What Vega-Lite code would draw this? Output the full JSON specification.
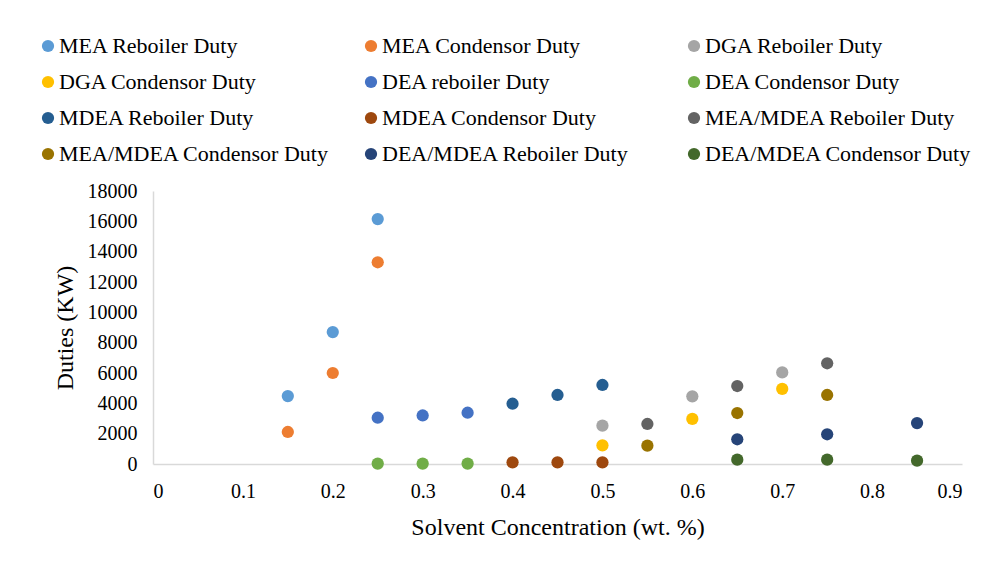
{
  "$schema": "https://vega.github.io/schema/vega-lite/v6.json",
  "width": 809,
  "height": 273,
  "autosize": {"type": "none"},
  "padding": {"left": 153, "top": 191, "right": 28, "bottom": 110},
  "background": "white",
  "data": {
    "values": [
      {"series": "MEA Reboiler Duty", "conc": 0.15, "duty": 4480},
      {"series": "MEA Reboiler Duty", "conc": 0.2, "duty": 8700},
      {"series": "MEA Reboiler Duty", "conc": 0.25, "duty": 16150},
      {"series": "MEA Condensor Duty", "conc": 0.15, "duty": 2110},
      {"series": "MEA Condensor Duty", "conc": 0.2, "duty": 6000},
      {"series": "MEA Condensor Duty", "conc": 0.25, "duty": 13300},
      {"series": "DGA Reboiler Duty", "conc": 0.5, "duty": 2530},
      {"series": "DGA Reboiler Duty", "conc": 0.6, "duty": 4460},
      {"series": "DGA Reboiler Duty", "conc": 0.7, "duty": 6040},
      {"series": "DGA Condensor Duty", "conc": 0.5, "duty": 1230},
      {"series": "DGA Condensor Duty", "conc": 0.6, "duty": 2970},
      {"series": "DGA Condensor Duty", "conc": 0.7, "duty": 4950},
      {"series": "DEA reboiler Duty", "conc": 0.25, "duty": 3050},
      {"series": "DEA reboiler Duty", "conc": 0.3, "duty": 3200},
      {"series": "DEA reboiler Duty", "conc": 0.35, "duty": 3380},
      {"series": "DEA Condensor Duty", "conc": 0.25, "duty": 30},
      {"series": "DEA Condensor Duty", "conc": 0.3, "duty": 30},
      {"series": "DEA Condensor Duty", "conc": 0.35, "duty": 30},
      {"series": "MDEA Reboiler Duty", "conc": 0.4, "duty": 3975},
      {"series": "MDEA Reboiler Duty", "conc": 0.45, "duty": 4550},
      {"series": "MDEA Reboiler Duty", "conc": 0.5, "duty": 5210},
      {"series": "MDEA Condensor Duty", "conc": 0.4, "duty": 110},
      {"series": "MDEA Condensor Duty", "conc": 0.45, "duty": 110},
      {"series": "MDEA Condensor Duty", "conc": 0.5, "duty": 110},
      {"series": "MEA/MDEA Reboiler Duty", "conc": 0.55, "duty": 2640},
      {"series": "MEA/MDEA Reboiler Duty", "conc": 0.65, "duty": 5140},
      {"series": "MEA/MDEA Reboiler Duty", "conc": 0.75, "duty": 6640},
      {"series": "MEA/MDEA Condensor Duty", "conc": 0.55, "duty": 1210},
      {"series": "MEA/MDEA Condensor Duty", "conc": 0.65, "duty": 3360},
      {"series": "MEA/MDEA Condensor Duty", "conc": 0.75, "duty": 4550},
      {"series": "DEA/MDEA Reboiler Duty", "conc": 0.65, "duty": 1630},
      {"series": "DEA/MDEA Reboiler Duty", "conc": 0.75, "duty": 1960},
      {"series": "DEA/MDEA Reboiler Duty", "conc": 0.85, "duty": 2700},
      {"series": "DEA/MDEA Condensor Duty", "conc": 0.65, "duty": 285},
      {"series": "DEA/MDEA Condensor Duty", "conc": 0.75, "duty": 285},
      {"series": "DEA/MDEA Condensor Duty", "conc": 0.85, "duty": 220}
    ]
  },
  "mark": {"type": "point", "filled": true, "shape": "circle", "size": 150, "opacity": 1},
  "encoding": {
    "x": {
      "field": "conc",
      "type": "quantitative",
      "scale": {"domain": [0, 0.9], "nice": false, "zero": false},
      "axis": {
        "title": "Solvent Concentration (wt. %)",
        "values": [0, 0.1, 0.2, 0.3, 0.4, 0.5, 0.6, 0.7, 0.8, 0.9],
        "format": ".1~f",
        "grid": false,
        "ticks": false,
        "domainColor": "#d9d9d9",
        "domainWidth": 1.5,
        "labelPadding": 17,
        "labelFontSize": 20,
        "labelFont": "Liberation Serif",
        "labelColor": "#000000",
        "titleFont": "Liberation Serif",
        "titleFontSize": 24,
        "titleFontWeight": "normal",
        "titleColor": "#000000",
        "titlePadding": 14
      }
    },
    "y": {
      "field": "duty",
      "type": "quantitative",
      "scale": {"domain": [0, 18000], "nice": false},
      "axis": {
        "title": "Duties (KW)",
        "values": [0, 2000, 4000, 6000, 8000, 10000, 12000, 14000, 16000, 18000],
        "format": "d",
        "grid": false,
        "ticks": false,
        "domainColor": "#d9d9d9",
        "domainWidth": 1.5,
        "labelPadding": 16,
        "labelFontSize": 20,
        "labelFont": "Liberation Serif",
        "labelColor": "#000000",
        "titleFont": "Liberation Serif",
        "titleFontSize": 24,
        "titleFontWeight": "normal",
        "titleColor": "#000000",
        "titlePadding": 10
      }
    },
    "color": {
      "field": "series",
      "type": "nominal",
      "scale": {
        "domain": [
          "MEA Reboiler Duty", "MEA Condensor Duty", "DGA Reboiler Duty",
          "DGA Condensor Duty", "DEA reboiler Duty", "DEA Condensor Duty",
          "MDEA Reboiler Duty", "MDEA Condensor Duty", "MEA/MDEA Reboiler Duty",
          "MEA/MDEA Condensor Duty", "DEA/MDEA Reboiler Duty", "DEA/MDEA Condensor Duty"
        ],
        "range": [
          "#5B9BD5", "#ED7D31", "#A5A5A5",
          "#FFC000", "#4472C4", "#70AD47",
          "#255E91", "#9E480E", "#636363",
          "#997300", "#264478", "#43682B"
        ]
      },
      "legend": {
        "title": null,
        "orient": "none",
        "legendX": -116,
        "legendY": -156,
        "columns": 3,
        "direction": "horizontal",
        "gridAlign": "all",
        "columnPadding": 30,
        "rowPadding": 14,
        "symbolType": "circle",
        "symbolSize": 150,
        "symbolStrokeWidth": 0,
        "symbolOpacity": 1,
        "labelFont": "Liberation Serif",
        "labelFontSize": 22,
        "labelColor": "#000000",
        "labelOffset": 0,
        "labelLimit": 400,
        "padding": 0
      }
    }
  },
  "config": {
    "view": {"stroke": null}
  }
}
